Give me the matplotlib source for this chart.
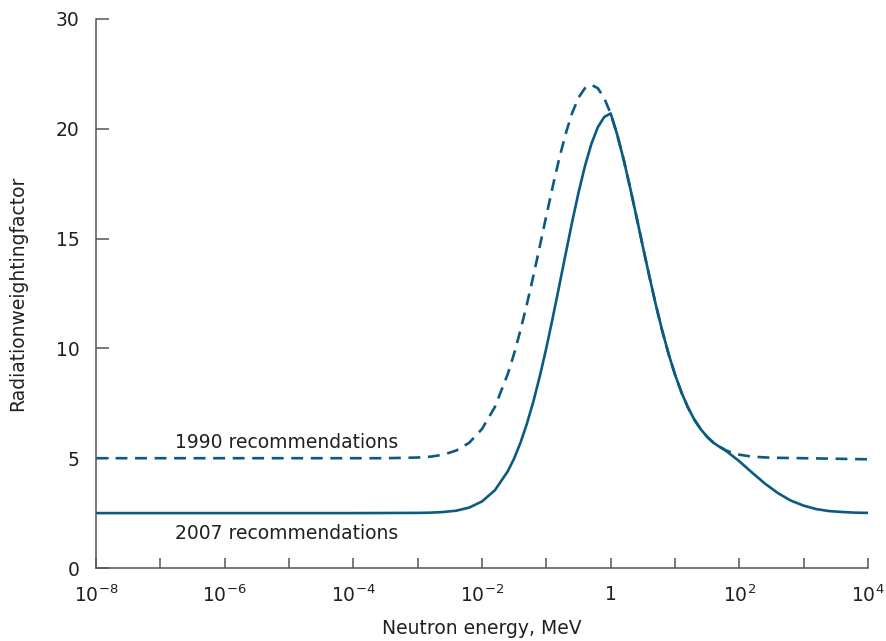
import matplotlib
matplotlib.use("Agg")
import matplotlib.pyplot as plt
import numpy as np

# ---- data ----
log_e_1990 = [-8, -4, -3.5, -3, -2.8, -2.6, -2.4, -2.2, -2.0, -1.8, -1.6, -1.5, -1.4, -1.3,
              -1.2, -1.1, -1.0, -0.9, -0.8, -0.7, -0.6, -0.5, -0.4, -0.3, -0.2, -0.1, 0.0,
              0.1, 0.2, 0.3, 0.4, 0.5, 0.6, 0.7, 0.8, 0.9, 1.0, 1.1, 1.2, 1.3, 1.4, 1.5,
              1.6, 1.8, 2.0, 2.2, 2.5, 3.0, 4.0]
wr_1990 = [5.00, 5.00, 5.00, 5.03, 5.07, 5.16, 5.35, 5.70, 6.33, 7.33, 8.83, 9.77, 10.85, 12.04,
           13.32, 14.67, 16.04, 17.38, 18.64, 19.77, 20.71, 21.42, 21.85, 22.00, 21.85, 21.40, 20.69,
           19.75, 18.62, 17.35, 16.01, 14.64, 13.30, 12.01, 10.82, 9.75, 8.81, 8.00, 7.32, 6.76, 6.32, 5.97,
           5.70, 5.34, 5.16, 5.07, 5.02, 5.00, 4.95]

log_e_2007 = [-8, -4, -3, -2.8, -2.6, -2.4, -2.2, -2.0, -1.8, -1.6, -1.5, -1.4, -1.3, -1.2,
              -1.1, -1.0, -0.9, -0.8, -0.7, -0.6, -0.5, -0.4, -0.3, -0.2, -0.1, 0.0,
              0.1, 0.2, 0.3, 0.4, 0.5, 0.6, 0.7, 0.8, 0.9, 1.0, 1.1, 1.2, 1.3, 1.4, 1.5,
              1.6, 1.7, 1.8, 2.0, 2.2, 2.4, 2.6, 2.8, 3.0, 3.2, 3.4, 3.6, 3.8, 4.0]
wr_2007 = [2.50, 2.50, 2.51, 2.52, 2.55, 2.61, 2.75, 3.03, 3.54, 4.40, 4.99, 5.72, 6.59, 7.60,
           8.75, 10.02, 11.40, 12.84, 14.30, 15.74, 17.09, 18.30, 19.31, 20.07, 20.54, 20.70,
           19.75, 18.62, 17.35, 16.01, 14.64, 13.30, 12.01, 10.82, 9.75, 8.81, 8.00, 7.32, 6.76, 6.32, 5.97,
           5.70, 5.50, 5.32, 4.86, 4.34, 3.84, 3.41, 3.07, 2.84, 2.68, 2.59, 2.55, 2.52, 2.51]

x_ticks_log = list(range(-8, 5))
x_tick_labels = {-8: r"$\mathregular{10^{-8}}$", -6: r"$\mathregular{10^{-6}}$",
                 -4: r"$\mathregular{10^{-4}}$", -2: r"$\mathregular{10^{-2}}$",
                 0: "1", 2: r"$\mathregular{10^{2}}$", 4: r"$\mathregular{10^{4}}$"}
y_ticks = [0, 5, 10, 15, 20, 25]
y_tick_labels = ["0", "5", "10", "15", "20", "30"]

label_1990 = "1990 recommendations"
label_2007 = "2007 recommendations"

# ---- style ----
line_color = "#0b5b80"
axis_color = "#555555"
text_color = "#231f20"
plt.rcParams['font.family'] = ['DejaVu Sans']
fs = 13.5

fig = plt.figure(figsize=(8.87, 6.41), dpi=100)
ax = fig.add_axes([96/887, 1-568/641, (868-96)/887, (568-19)/641])

E1990 = [10.0**v for v in log_e_1990]
E2007 = [10.0**v for v in log_e_2007]

ax.plot(E1990, wr_1990, color=line_color, lw=1.9, linestyle=(0, (4.5, 2.9)),
        solid_capstyle='butt', dash_capstyle='butt')
ax.plot(E2007, wr_2007, color=line_color, lw=1.9)

ax.set_xscale('log')
ax.set_xlim(1e-8, 1e4)
ax.set_ylim(0, 25)

ax.set_xticks([10.0**k for k in x_ticks_log])
ax.set_xticklabels([x_tick_labels.get(k, "") for k in x_ticks_log])
ax.xaxis.set_minor_locator(matplotlib.ticker.NullLocator())
ax.set_yticks(y_ticks)
ax.set_yticklabels(y_tick_labels)

for s in ['top', 'right']:
    ax.spines[s].set_visible(False)
for s in ['left', 'bottom']:
    ax.spines[s].set_color(axis_color)
    ax.spines[s].set_linewidth(1.1)

ax.tick_params(axis='x', direction='in', length=7.5, width=1.1, color=axis_color,
               labelsize=fs, labelcolor=text_color, pad=12)
ax.tick_params(axis='y', direction='in', length=9, width=1.1, color=axis_color,
               labelsize=fs, labelcolor=text_color, pad=12)

ax.text(10**-6.772, 5.46, label_1990, fontsize=fs, color=text_color, ha='left', va='baseline')
ax.text(10**-6.772, 1.32, label_2007, fontsize=fs, color=text_color, ha='left', va='baseline')

fig.text(18/887, 1-293/641, "Radiationweightingfactor", rotation=90, fontsize=fs,
         color=text_color, ha='center', va='center')
fig.text(482/887, 1-628/641, "Neutron energy, MeV", fontsize=fs, color=text_color,
         ha='center', va='center')

fig.savefig("out.png", dpi=100, facecolor='white')
